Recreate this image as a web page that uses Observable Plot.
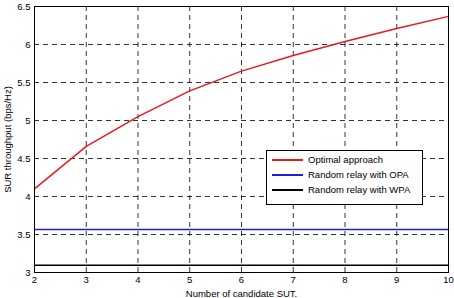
<!DOCTYPE html>
<html><head><meta charset="utf-8">
<script src="https://cdn.jsdelivr.net/npm/d3@7"></script>
<script src="https://cdn.jsdelivr.net/npm/@observablehq/plot@0.6"></script>
<style>
body{margin:0;background:#fff;font-family:"Liberation Sans",Arial,sans-serif;}
#wrap{position:relative;width:454px;height:298px;}
#legend{position:absolute;left:266px;top:150px;width:157px;height:55px;border:1px solid #000;background:#fff;font-size:9.5px;box-sizing:border-box;color:#000;}
#legend .row{position:absolute;left:5px;height:13px;display:flex;align-items:center;}
#legend .sw{display:inline-block;width:31px;height:2px;margin-right:5px;}
</style></head>
<body><div id="wrap"></div>
<script>
const candidates = [2, 3, 4, 5, 6, 7, 8, 9, 10];
const optimal = [4.10, 4.66, 5.05, 5.39, 5.65, 5.855, 6.04, 6.21, 6.37];
const randomOPA = [3.566, 3.566, 3.566, 3.566, 3.566, 3.566, 3.566, 3.566, 3.566];
const randomWPA = [3.096, 3.096, 3.096, 3.096, 3.096, 3.096, 3.096, 3.096, 3.096];
const seriesNames = ["Optimal approach", "Random relay with OPA", "Random relay with WPA"];
const seriesColors = ["#e8191f", "#1f1fd6", "#000000"];
const xTicks = [2, 3, 4, 5, 6, 7, 8, 9, 10];
const yTicks = [3, 3.5, 4, 4.5, 5, 5.5, 6, 6.5];

const allSeries = [optimal, randomOPA, randomWPA];
const data = [];
allSeries.forEach((vals, si) => vals.forEach((v, i) => data.push({x: candidates[i], y: v, s: seriesNames[si]})));

const chart = Plot.plot({
  width: 454, height: 298,
  marginLeft: 34, marginRight: 6, marginTop: 6, marginBottom: 26,
  style: {fontFamily: "Liberation Sans, Arial, sans-serif", fontSize: "9.5px", background: "#fff"},
  x: {domain: [2, 10], ticks: xTicks, label: null},
  y: {domain: [3, 6.5], ticks: yTicks, label: null},
  color: {domain: seriesNames, range: seriesColors},
  marks: [
    Plot.gridX(xTicks.filter(t => t > 2 && t < 10), {stroke: "#000", strokeOpacity: 1, strokeDasharray: "5,4", strokeWidth: 0.8}),
    Plot.gridY(yTicks.filter(t => t > 3 && t < 6.5), {stroke: "#000", strokeOpacity: 1, strokeDasharray: "5,4", strokeWidth: 0.8}),
    Plot.axisX(xTicks, {tickSize: 0, tickPadding: 4, fill: "#000", label: "Number of candidate SUT.", labelAnchor: "center", labelArrow: "none", labelOffset: 24}),
    Plot.axisY(yTicks, {tickSize: 0, tickPadding: 4, fill: "#000", tickFormat: d => String(d), label: "SUR throughput (bps/Hz)", labelAnchor: "center", labelArrow: "none", labelOffset: 30}),
    Plot.line(data, {x: "x", y: "y", z: "s", stroke: "s", strokeWidth: 1.5}),
    Plot.frame({stroke: "#000", strokeWidth: 1})
  ]
});
document.getElementById("wrap").appendChild(chart);

const leg = document.createElement("div");
leg.id = "legend";
seriesNames.forEach((n, i) => {
  const r = document.createElement("div");
  r.className = "row";
  r.style.top = (2 + i * 15) + "px";
  r.innerHTML = `<span class="sw" style="background:${seriesColors[i]}"></span><span>${n}</span>`;
  leg.appendChild(r);
});
document.getElementById("wrap").appendChild(leg);
</script></body></html>
